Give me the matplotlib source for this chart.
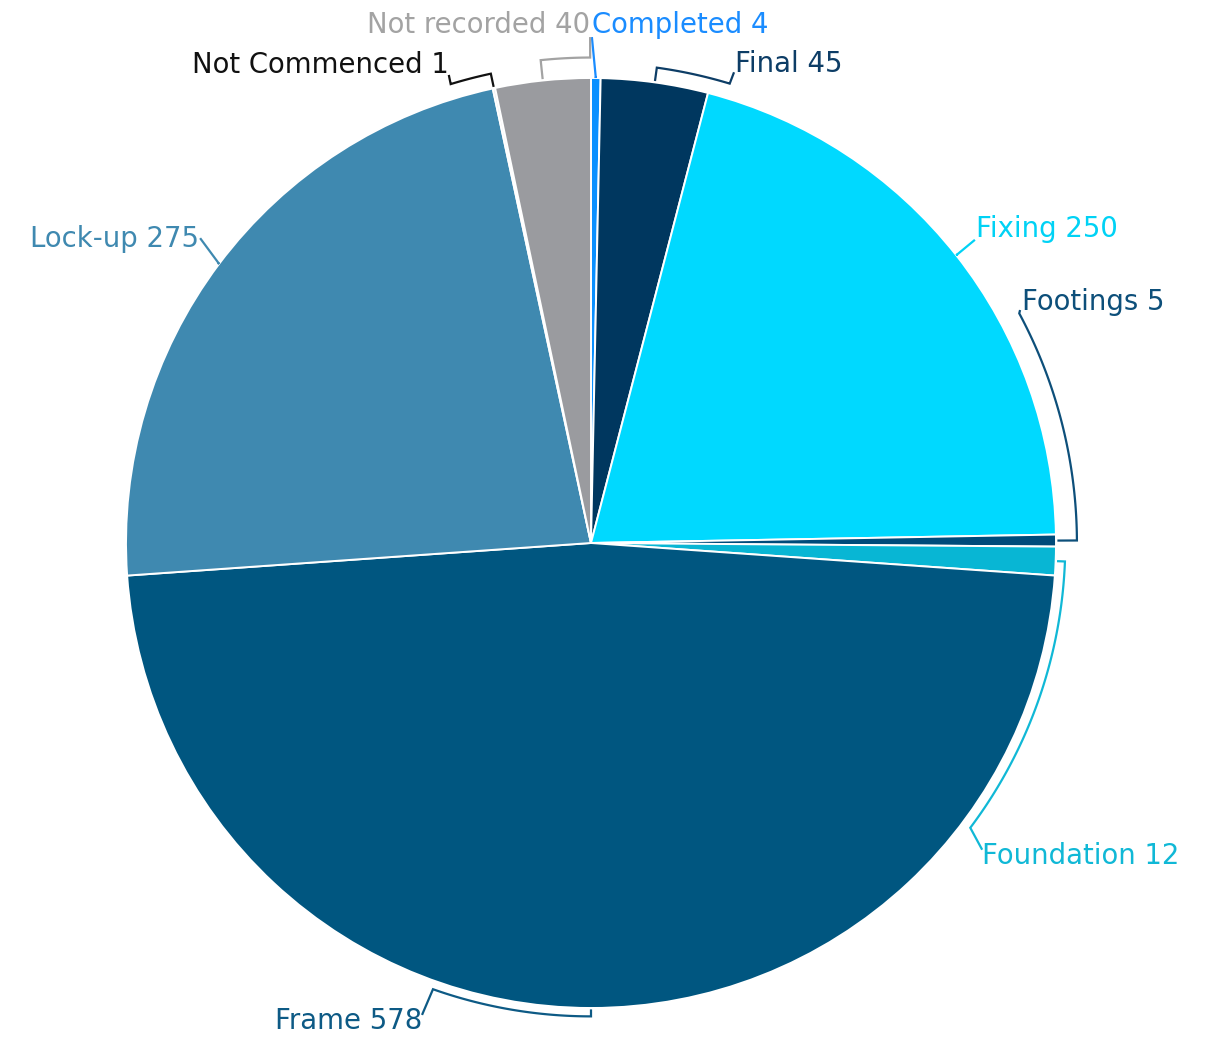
import numpy as np
import matplotlib
matplotlib.use("Agg")
import matplotlib.pyplot as plt

# Building stage counts
stages = ["Completed", "Final", "Fixing", "Footings", "Foundation",
          "Frame", "Lock-up", "Not Commenced", "Not recorded"]
counts = [4, 45, 250, 5, 12, 578, 275, 1, 40]
slice_colors = ["#0a90ff", "#00375f", "#00d9ff", "#004b7a", "#08b6d4",
                "#005680", "#3f89b0", "#e2e2e2", "#9a9b9f"]
label_colors = ["#1a8cff", "#0d3d66", "#00d2f5", "#0d4f7a", "#10b8d6",
                "#0d5a85", "#3f89b0", "#111111", "#a3a3a3"]

# Connector geometry per stage (angles clockwise from 12 o'clock, radii in pie units)
# arc radius, arc end angle, connector end angle, connector end radius
conn_r_arc = [1.0, 1.032, 1.0, 1.045, 1.02, 1.018, 1.0, 1.032, 1.044]
conn_a_arc = [None, 16.8, None, 61.8, 126.9, 199.5, None, 343.0, 359.9]
conn_a_end = [0.1, 16.9, 51.7, 61.5, 128.1, 199.7, 307.95, 343.1, 359.9]
conn_r_end = [1.088, 1.058, 1.052, 1.05, 1.069, 1.078, 1.066, 1.052, 1.088]
# Label anchor (angle, radius, horizontal alignment)
lab_a = [0.1, 16.7, 50.8, 60.8, 128.7, 199.5, 307.8, 343.45, 359.9]
lab_r = [1.114, 1.0756, 1.068, 1.062, 1.077, 1.090, 1.067, 1.072, 1.114]
lab_ha = ["left", "left", "left", "left", "left", "right", "right", "right", "right"]

R_PX = 465.0
W, H = 1217, 1039
CX, CY = 591, 543

fig = plt.figure(figsize=(W / 100, H / 100), dpi=100)
ax = fig.add_axes([0, 0, 1, 1])

ax.pie(counts, colors=slice_colors, startangle=90, counterclock=False,
       radius=1.0, center=(0, 0), frame=True,
       wedgeprops=dict(edgecolor="white", linewidth=1.4))
ax.set_xlim(-CX / R_PX, (W - CX) / R_PX)
ax.set_ylim(-(H - CY) / R_PX, CY / R_PX)
ax.set_aspect("equal")
ax.axis("off")


def polar(angle_deg, r):
    t = np.deg2rad(angle_deg)
    return r * np.sin(t), r * np.cos(t)


total = float(sum(counts))
cum = np.cumsum([0] + counts)
for i, name in enumerate(stages):
    mid = (cum[i] + cum[i + 1]) / 2 / total * 360.0
    r_arc = conn_r_arc[i]
    a_arc = conn_a_arc[i] if conn_a_arc[i] is not None else mid
    # keep the arc short when it crosses 12 o'clock
    if a_arc - mid > 180:
        a_arc -= 360
    elif mid - a_arc > 180:
        a_arc += 360
    xs, ys = [], []
    x0, y0 = polar(mid, 1.003)
    xs.append(x0); ys.append(y0)
    for a in np.linspace(mid, a_arc, 60):
        x, y = polar(a, r_arc)
        xs.append(x); ys.append(y)
    xe, ye = polar(conn_a_end[i], conn_r_end[i])
    xs.append(xe); ys.append(ye)
    ax.plot(xs, ys, color=label_colors[i], lw=1.6, solid_joinstyle="miter",
            solid_capstyle="butt", zorder=3)

    tx, ty = polar(lab_a[i], lab_r[i])
    ax.text(tx, ty, f"{name} {counts[i]}", ha=lab_ha[i], va="center",
            color=label_colors[i], fontsize=19.8, family="DejaVu Sans",
            zorder=4)

fig.savefig("out.png", dpi=100, facecolor="white")
